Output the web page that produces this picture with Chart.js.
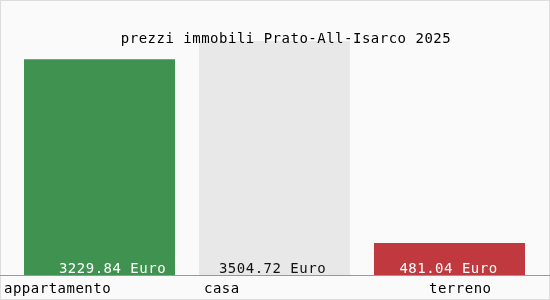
<!DOCTYPE html>
<html>
<head>
<meta charset="utf-8">
<script src="https://cdn.jsdelivr.net/npm/chart.js@4/dist/chart.umd.min.js"></script>
<style>
    html, body { margin: 0; padding: 0; background: #fafafa; }
    #grafico { display: block; }
</style>
</head>
<body>
<canvas id="grafico" width="550" height="300"></canvas>
<script>
// Dati del grafico
let titolo = "prezzi immobili Prato-All-Isarco 2025";
let categorie = ["appartamento", "casa", "terreno"];
let prezzi = [3229.84, 3504.72, 481.04];
let coloriBarre = ["rgb(64,146,80)", "rgb(232,232,232)", "rgb(191,57,62)"];
let coloriTesto = ["#ffffff", "#111111", "#ffffff"];

const FONT = "14px 'DejaVu Sans Mono', monospace";

// Spostamenti delle etichette rispetto al centro della barra
const spostValori = [13, -2, -1];
const spostCategorie = [-95.5, -70.5, -20.5];

// Plugin per sfondo, bordo, asse e testi
const pluginTesti = {
    id: 'testi',
    beforeDraw(chart) {
        const c = chart.ctx;
        c.save();
        c.fillStyle = '#fafafa';
        c.fillRect(0, 0, chart.width, chart.height);
        c.strokeStyle = '#dddddd';
        c.lineWidth = 1;
        c.strokeRect(0.5, 0.5, chart.width - 1, chart.height - 1);
        c.restore();
    },
    afterDatasetsDraw(chart) {
        const c = chart.ctx;
        const area = chart.chartArea;
        const meta = chart.getDatasetMeta(0);
        c.save();
        c.font = FONT;
        c.letterSpacing = '0.5px';

        // titolo
        c.fillStyle = '#000000';
        c.textAlign = 'center';
        c.textBaseline = 'alphabetic';
        c.fillText(titolo, chart.width / 2 + 11, 43);

        // valori dentro le barre
        meta.data.forEach((barra, i) => {
            c.fillStyle = coloriTesto[i];
            c.textAlign = 'center';
            c.fillText(prezzi[i].toFixed(2) + ' Euro', barra.x + spostValori[i], area.bottom - 2);
        });

        // linea dell'asse
        c.strokeStyle = '#999999';
        c.lineWidth = 1;
        c.beginPath();
        c.moveTo(0, area.bottom + 0.5);
        c.lineTo(chart.width, area.bottom + 0.5);
        c.stroke();

        // etichette delle categorie
        c.fillStyle = '#000000';
        c.textAlign = 'left';
        meta.data.forEach((barra, i) => {
            c.fillText(categorie[i], barra.x + spostCategorie[i], area.bottom + 18);
        });
        c.restore();
    }
};

let grafico = new Chart(document.getElementById('grafico').getContext('2d'), {
    type: 'bar',
    data: {
        labels: categorie,
        datasets: [{
            data: prezzi,
            backgroundColor: coloriBarre,
            borderWidth: 0,
            barPercentage: 151 / 175,
            categoryPercentage: 1
        }]
    },
    options: {
        responsive: false,
        animation: false,
        layout: { padding: { left: 12, right: 13, top: 41, bottom: 25 } },
        plugins: {
            legend: { display: false },
            title: { display: false },
            tooltip: { enabled: false }
        },
        scales: {
            x: { display: false },
            y: { display: false, beginAtZero: true, min: 0, max: Math.max(...prezzi) }
        }
    },
    plugins: [pluginTesti]
});
</script>
</body>
</html>
